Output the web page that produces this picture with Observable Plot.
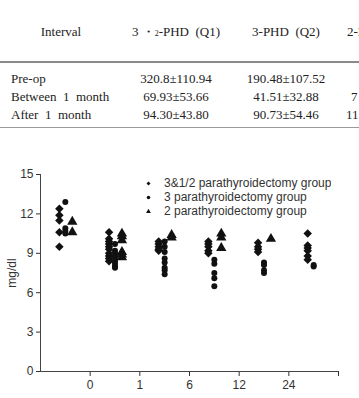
<!DOCTYPE html>
<html>
<head>
<meta charset="utf-8">
<script src="https://cdn.jsdelivr.net/npm/d3@7"></script>
<script src="https://cdn.jsdelivr.net/npm/@observablehq/plot@0.6"></script>
<style>
  html, body { margin: 0; padding: 0; background: #fff; width: 359px; height: 398px; overflow: hidden; }
  #page { position: relative; width: 359px; height: 398px; overflow: hidden; }
  .tbl { position: absolute; left: 0; top: 0; width: 420px; font-family: "Liberation Serif", "Times New Roman", serif; font-size: 13px; color: #222; }
  .row { position: absolute; left: 0; width: 420px; height: 18px; line-height: 18px; white-space: nowrap; }
  .cell { position: absolute; top: 0; text-align: center; }
  .rule { position: absolute; left: 0; width: 420px; }
  .small { font-size: 8px; }
  #chart { position: absolute; left: 0; top: 145px; }
  #legend { position: absolute; left: 139px; top: 177px; }
</style>
</head>
<body>
<div id="page">
  <div class="tbl" id="tbl"></div>
  <div id="chart"></div>
  <div id="legend"></div>
</div>
<script>
// Table of intact PTH by interval and operation type
const intervals = ["Pre-op", "Between  1  month", "After  1  month"];
const q1 = ["320.8±110.94", "69.93±53.66", "94.30±43.80"];
const q2 = ["190.48±107.52", "41.51±32.88", "90.73±54.46"];
const q3 = ["", "7", "11"];

// Serum calcium (mg/dl) by follow-up period, one list per group
const groups = ["3&1/2 parathyroidectomy group", "3 parathyroidectomy group", "2 parathyroidectomy group"];
const symbols = ["diamond2", "circle", "triangle"];
const periodTicks = [1, 2, 3, 4, 5, 6];
const periodLabels = ["0", "1", "6", "12", "24", ""];

const subtotal = [
  [12.4, 11.9, 11.5, 10.6, 9.5],
  [10.6, 10.1, 9.9, 9.7, 9.5, 9.3, 9.0, 8.8, 8.6, 8.4],
  [9.9, 9.7, 9.5, 9.3, 9.2],
  [9.9, 9.7, 9.5, 9.2, 9.0],
  [9.8, 9.5, 9.3, 9.1],
  [10.5, 9.6, 9.4, 9.2, 8.8, 8.5]
];
const threeGland = [
  [12.9, 10.9, 10.7, 10.5],
  [9.7, 9.2, 9.0, 8.8, 8.6, 8.4, 8.2, 8.0, 7.9],
  [9.9, 9.5, 9.1, 8.6, 8.3, 7.9, 7.7, 7.4],
  [8.5, 8.2, 7.5, 7.1, 6.5],
  [8.3, 8.1, 7.7, 7.5],
  [8.0, 8.1]
];
const twoGland = [
  [11.4, 10.6],
  [10.5, 10.3, 10.0, 9.1, 8.9, 8.7],
  [10.4, 10.2],
  [10.5, 10.2, 9.4],
  [10.1],
  []
];

// ---- table ----
const tbl = document.getElementById("tbl");
function addRow(top, cells) {
  const r = document.createElement("div");
  r.className = "row";
  r.style.top = top + "px";
  for (const c of cells) {
    const d = document.createElement("div");
    d.className = "cell";
    d.style.left = c.left + "px";
    d.style.width = c.width + "px";
    if (c.align) d.style.textAlign = c.align;
    d.innerHTML = c.html;
    r.appendChild(d);
  }
  tbl.appendChild(r);
}
function addRule(top, h, color) {
  const r = document.createElement("div");
  r.className = "rule";
  r.style.top = top + "px";
  r.style.height = h + "px";
  r.style.background = color;
  tbl.appendChild(r);
}
addRow(23, [
  {left: 11, width: 100, html: "Interval"},
  {left: 121, width: 110, html: '3 ・<span class="small">2</span>-PHD&nbsp; (Q1)'},
  {left: 231, width: 110, html: "3-PHD&nbsp; (Q2)"},
  {left: 347, width: 80, align: "left", html: "2-PHD&nbsp; (Q3)"}
]);
addRule(61, 2, "#8a8a8a");
intervals.forEach((name, i) => {
  addRow(70 + i * 18, [
    {left: 11, width: 120, align: "left", html: name.replace(/ /g, "&nbsp;")},
    {left: 121, width: 110, html: q1[i]},
    {left: 231, width: 110, html: q2[i]},
    {left: [362, 351, 346][i], width: 60, align: "left", html: q3[i]}
  ]);
});
addRule(127, 1, "#9a9a9a");

// ---- chart ----
const offsets = [-0.12, 0.0, 0.14];
const series = [subtotal, threeGland, twoGland];
const points = [];
series.forEach((byPeriod, g) => {
  byPeriod.forEach((vals, p) => {
    for (const v of vals) points.push({group: groups[g], x: p + 0.5 + offsets[g], value: v});
  });
});

const ink = "#111";
const chart = Plot.plot({
  width: 359,
  height: 253,
  marginTop: 29,
  marginBottom: 27,
  marginLeft: 40,
  marginRight: 21,
  style: {fontFamily: "'Liberation Sans', Arial, sans-serif", fontSize: "12px", color: "#333", background: "#fff"},
  x: {domain: [0, 6], ticks: periodTicks, tickFormat: (d, i) => periodLabels[i], tickSize: 5, tickPadding: 4, label: null},
  y: {domain: [0, 15], ticks: d3.range(0, 16, 3), tickSize: 4, tickPadding: 3, label: "mg/dl", labelAnchor: "center", labelOffset: 33, labelArrow: "none"},
  symbol: {domain: groups, range: symbols},
  marks: [
    Plot.ruleX([0], {stroke: "#444"}),
    Plot.ruleY([0], {stroke: "#444"}),
    Plot.dot(points, {
      x: "x", y: "value", symbol: "group",
      r: d => d.group === groups[1] ? 1.6 : 2.6,
      fill: ink, stroke: "none"
    })
  ]
});
document.getElementById("chart").appendChild(chart);

const legend = Plot.legend({
  symbol: {domain: groups, range: symbols},
  fill: ink, stroke: "none", r: 2.6,
  columns: 1, swatchSize: 11, swatchHeight: 11, swatchWidth: 19,
  style: {fontFamily: "'Liberation Sans', Arial, sans-serif", fontSize: "12px", color: "#333", lineHeight: "13px"}
});
document.getElementById("legend").appendChild(legend);
</script>
</body>
</html>
